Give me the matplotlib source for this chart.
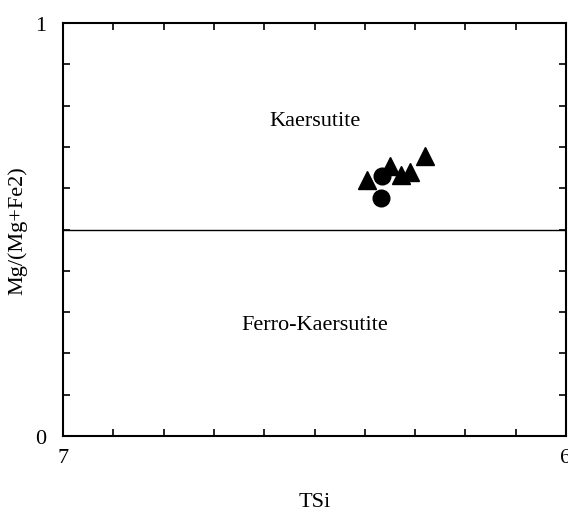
import matplotlib
matplotlib.use("Agg")
import matplotlib.pyplot as plt
import numpy as np

plt.rcParams['font.family'] = ['Liberation Serif', 'DejaVu Serif']

# Amphibole compositions (TSi vs Mg/(Mg+Fe2))
tri_tsi = [6.396, 6.350, 6.328, 6.310, 6.280]
tri_mg = [0.620, 0.654, 0.632, 0.639, 0.678]
circ_tsi = [6.366, 6.368]
circ_mg = [0.630, 0.576]

boundary_mg = 0.5
x_ticklabels = ["7", "6"]
y_ticklabels = ["0", "1"]

fig = plt.figure(figsize=(5.68, 5.10), dpi=100)
ax = fig.add_axes([63/568, 1 - 437/510, 503/568, 413/510])

ax.set_xlim(7, 6)
ax.set_ylim(0, 1)

ax.axhline(boundary_mg, color='black', lw=1.0)

ax.plot(tri_tsi, tri_mg, linestyle='none', marker='^', markersize=13,
        color='black', zorder=3)
ax.plot(circ_tsi, circ_mg, linestyle='none', marker='o', markersize=12,
        color='black', zorder=3)

ax.text(6.5, 0.765, "Kaersutite", ha='center', va='center', fontsize=16)
ax.text(6.5, 0.27, "Ferro-Kaersutite", ha='center', va='center', fontsize=16)

# minor ticks every 0.1 on all sides, inward
ax.set_xticks(np.arange(6.0, 7.01, 0.1), minor=True)
ax.set_yticks(np.arange(0.0, 1.01, 0.1), minor=True)
ax.set_xticks([7, 6])
ax.set_xticklabels(x_ticklabels)
ax.set_yticks([0, 1])
ax.set_yticklabels(y_ticklabels)
ax.tick_params(which='both', direction='in', top=True, right=True,
               length=5, width=1.2, labelsize=16)
ax.tick_params(which='major', length=0, pad=9)
ax.tick_params(axis='y', which='major', pad=12)

for s in ax.spines.values():
    s.set_linewidth(1.5)

ax.xaxis.set_label_coords(0.5, -0.135)
ax.yaxis.set_label_coords(-0.07, 0.5)
ax.set_xlabel("TSi", fontsize=16)
ax.set_ylabel("Mg/(Mg+Fe2)", fontsize=16)

fig.savefig("out.png", dpi=100)
